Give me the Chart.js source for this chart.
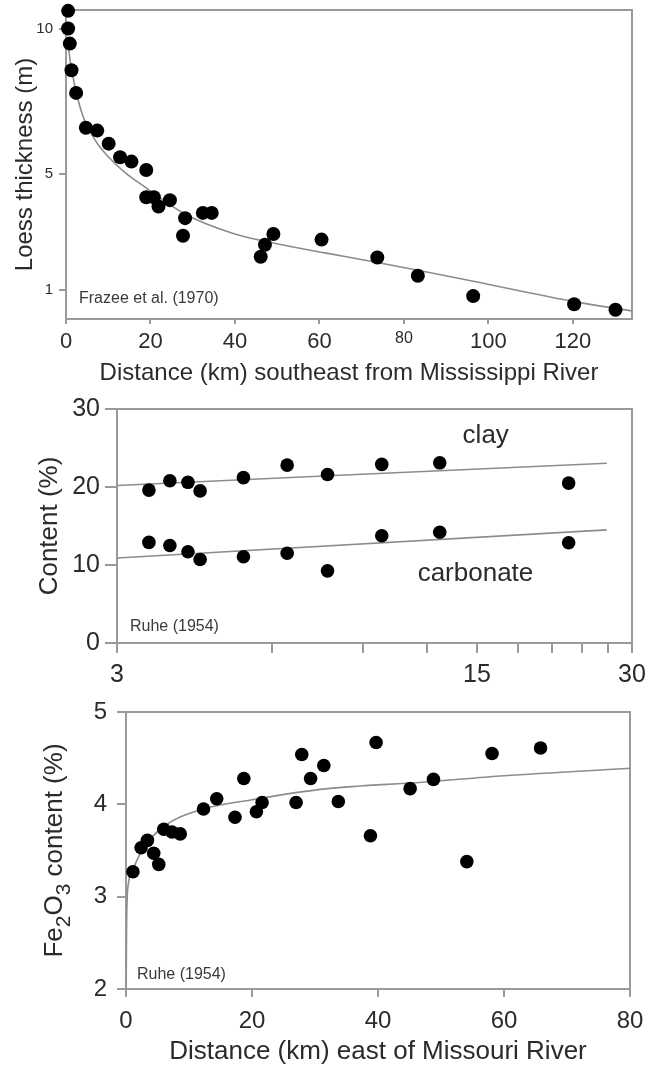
<!DOCTYPE html>
<html>
<head>
<meta charset="utf-8">
<title>Loess thickness and composition with distance from the rivers</title>
<script src="https://cdn.jsdelivr.net/npm/chart.js@4.4.1/dist/chart.umd.min.js"></script>
<style>
  html, body { margin: 0; padding: 0; background: #fff; }
  #wrap { position: relative; width: 649px; height: 1065px; overflow: hidden; }
  canvas { position: absolute; left: 0; }
</style>
</head>
<body>
<div id="wrap">
  <canvas id="thickness" width="649" height="385" style="top:0"></canvas>
  <canvas id="content" width="649" height="310" style="top:385px"></canvas>
  <canvas id="iron" width="649" height="370" style="top:695px"></canvas>
</div>
<script>
// Loess thickness (m) vs distance (km) southeast from the Mississippi River
const thickDist = [0.5, 0.5, 0.9, 1.3, 2.4, 4.7, 7.4, 10.1, 12.8, 15.5, 19.0, 19.0, 20.8, 21.9,
  24.6, 28.2, 27.7, 32.4, 34.5, 46.1, 47.1, 49.1, 60.5, 73.7, 83.3, 96.4, 120.3, 130.1];
const thickness = [10.63, 10.02, 9.5, 8.58, 7.8, 6.6, 6.5, 6.05, 5.58, 5.43, 5.14, 4.2, 4.2, 3.88,
  4.1, 3.48, 2.87, 3.66, 3.66, 2.15, 2.56, 2.93, 2.74, 2.12, 1.49, 0.79, 0.51, 0.32];
const thickFitDist = [0.4, 1, 2, 4, 7, 10, 14, 18.7, 27.8, 39.6, 49.1, 61.3, 73.7, 83.3, 96.4, 120.3, 134];
const thickFit = [9.6, 8.9, 8.1, 7.0, 6.15, 5.6, 5.05, 4.55, 3.65, 2.95, 2.62, 2.28, 1.95, 1.68, 1.3, 0.6, 0.28];
const thickXTicks = [0, 20, 40, 60, 80, 100, 120];
const thickYTicks = [1, 5, 10];

// Clay and carbonate content (%) vs distance (km), log distance axis
const contentDist = [3.46, 3.8, 4.12, 4.35, 5.28, 6.42, 7.69, 9.8, 12.7, 22.6];
const clay = [19.6, 20.8, 20.6, 19.5, 21.2, 22.8, 21.6, 22.9, 23.1, 20.5];
const carbonate = [12.9, 12.5, 11.7, 10.7, 11.05, 11.5, 9.25, 13.75, 14.2, 12.85];
const contentFitDist = [3, 26.8];
const clayFit = [20.2, 23.05];
const carbonateFit = [10.9, 14.5];
const contentXTicks = [3, 6, 9, 12, 15, 18, 21, 24, 27, 30];
const contentXLabels = [3, 15, 30];
const contentYTicks = [0, 10, 20, 30];

// Fe2O3 content (%) vs distance (km) east of the Missouri River
const ironDist = [1.1, 2.4, 3.4, 4.4, 5.2, 6.0, 7.3, 8.6, 12.3, 14.4, 17.3, 18.7, 20.7, 21.6,
  27.0, 27.9, 29.3, 31.4, 33.7, 38.8, 39.7, 45.1, 48.8, 54.1, 58.1, 65.8];
const fe2o3 = [3.27, 3.53, 3.61, 3.47, 3.35, 3.73, 3.70, 3.68, 3.95, 4.06, 3.86, 4.28, 3.92, 4.02,
  4.02, 4.54, 4.28, 4.42, 4.03, 3.66, 4.67, 4.17, 4.27, 3.38, 4.55, 4.61];
const ironFitDist = [0.02, 0.1, 0.4, 1.2, 2.8, 6, 11.8, 20, 32, 47, 60, 80];
const ironFit = [2.0, 2.75, 3.15, 3.31, 3.53, 3.76, 3.94, 4.05, 4.17, 4.24, 4.31, 4.39];
const ironXTicks = [0, 20, 40, 60, 80];
const ironYTicks = [2, 3, 4, 5];

const FONT = "'Liberation Sans', Arial, sans-serif";
const INK = '#2b2b2b';
const AXIS = '#9a9a9a';
const FIT = '#8c8c8c';

Chart.defaults.font.family = FONT;
Chart.defaults.color = INK;

const pairs = (xs, ys) => xs.map((x, i) => ({ x: x, y: ys[i] }));
const fixTicks = (values) => (scale) => { scale.ticks = values.map(v => ({ value: v })); };

// fixed axis box sizes, and no extra room kept for edge labels
const fitX = (h) => (s) => { s.height = h; s.paddingLeft = 0; s.paddingRight = 0; };
const fitY = (w) => (s) => { s.width = w; s.paddingTop = 0; s.paddingBottom = 0; };

// box round the plot area, drawn under the dots
const framePlugin = {
  id: 'frame',
  beforeDatasetsDraw(chart) {
    const { ctx, chartArea: a } = chart;
    ctx.save();
    ctx.strokeStyle = AXIS;
    ctx.lineWidth = 2;
    ctx.strokeRect(a.left, a.top, a.right - a.left, a.bottom - a.top);
    ctx.restore();
  }
};

// free text inside the plot: either at data coords or offset from bottom-left corner
const notesPlugin = {
  id: 'notes',
  afterDatasetsDraw(chart, args, opts) {
    const { ctx, chartArea: a, scales } = chart;
    ctx.save();
    ctx.textBaseline = 'middle';
    (opts.items || []).forEach(n => {
      ctx.font = n.size + 'px ' + FONT;
      ctx.fillStyle = n.color || INK;
      ctx.textAlign = n.align || 'left';
      const x = n.atX != null ? scales.x.getPixelForValue(n.atX) : a.left + n.dx;
      const y = n.atY != null ? scales.y.getPixelForValue(n.atY) : a.bottom + n.dy;
      ctx.fillText(n.text, x, y);
    });
    ctx.restore();
  }
};

// rotated y title with lowered digits for the formula
const ironTitlePlugin = {
  id: 'ironTitle',
  afterDraw(chart) {
    const { ctx, chartArea: a } = chart;
    const parts = [['Fe', 0], ['2', 1], ['O', 0], ['3', 1], [' content (%)', 0]];
    const setFont = (sub) => { ctx.font = (sub ? 21 : 26) + 'px ' + FONT; };
    ctx.save();
    ctx.translate(62, (a.top + a.bottom) / 2);
    ctx.rotate(-Math.PI / 2);
    ctx.fillStyle = INK;
    ctx.textBaseline = 'alphabetic';
    ctx.textAlign = 'left';
    let total = 0;
    parts.forEach(([t, sub]) => { setFont(sub); total += ctx.measureText(t).width; });
    let x = -total / 2;
    parts.forEach(([t, sub]) => {
      setFont(sub);
      ctx.fillText(t, x, sub ? 8 : 0);
      x += ctx.measureText(t).width;
    });
    ctx.restore();
  }
};

function tickGrid(len) {
  return { display: true, drawOnChartArea: false, drawTicks: true, tickLength: len, color: AXIS, lineWidth: 2 };
}
const border = { display: true, color: AXIS, width: 2 };

function dots(data, r) {
  return { data: data, showLine: false, pointRadius: r, pointHoverRadius: r,
    backgroundColor: '#000', borderWidth: 0, clip: false };
}
function fitLine(data) {
  return { data: data, showLine: true, pointRadius: 0, borderColor: FIT, borderWidth: 1.6,
    cubicInterpolationMode: 'monotone', fill: false };
}

const common = {
  responsive: false,
  animation: false,
  events: [],
  plugins: { legend: { display: false }, tooltip: { enabled: false } }
};

new Chart(document.getElementById('thickness'), {
  type: 'scatter',
  data: { datasets: [dots(pairs(thickDist, thickness), 7), fitLine(pairs(thickFitDist, thickFit))] },
  plugins: [framePlugin, notesPlugin],
  options: {
    ...common,
    layout: { padding: { top: 10, right: 17, left: 0, bottom: 0 } },
    plugins: {
      ...common.plugins,
      notes: { items: [{ text: 'Frazee et al. (1970)', dx: 13, dy: -20, size: 16, color: '#3a3a3a' }] }
    },
    scales: {
      x: {
        type: 'linear', min: 0, max: 134,
        afterBuildTicks: fixTicks(thickXTicks),
        afterFit: fitX(66),
        grid: tickGrid(5), border: border,
        ticks: {
          autoSkip: false, maxRotation: 0, padding: 5, color: INK,
          font: (c) => ({ family: FONT, size: c.tick && c.tick.value === 80 ? 16 : 22 })
        },
        title: { display: true, text: 'Distance (km) southeast from Mississippi River',
          color: INK, font: { size: 24, lineHeight: 1 }, padding: { top: 4, bottom: 0 } }
      },
      y: {
        type: 'linear', min: 0, max: 10.66,
        afterBuildTicks: fixTicks(thickYTicks),
        afterFit: fitY(66),
        grid: tickGrid(7), border: border,
        ticks: { autoSkip: false, padding: 6, color: INK, font: { size: 15 } },
        title: { display: true, text: 'Loess thickness (m)', color: INK,
          font: { size: 24, lineHeight: 1 }, padding: { top: 13, bottom: 0 } }
      }
    }
  }
});

new Chart(document.getElementById('content'), {
  type: 'scatter',
  data: {
    datasets: [
      dots(pairs(contentDist, clay), 6.8),
      dots(pairs(contentDist, carbonate), 6.8),
      fitLine(pairs(contentFitDist, clayFit)),
      fitLine(pairs(contentFitDist, carbonateFit))
    ]
  },
  plugins: [framePlugin, notesPlugin],
  options: {
    ...common,
    layout: { padding: { top: 24, right: 17, left: 0, bottom: 0 } },
    plugins: {
      ...common.plugins,
      notes: { items: [
        { text: 'Ruhe (1954)', dx: 13, dy: -16, size: 16, color: '#3a3a3a' },
        { text: 'clay', atX: 15.6, atY: 26.6, size: 26, align: 'center' },
        { text: 'carbonate', atX: 14.9, atY: 8.9, size: 26, align: 'center' }
      ] }
    },
    scales: {
      x: {
        type: 'logarithmic', min: 3, max: 30,
        afterBuildTicks: fixTicks(contentXTicks),
        afterFit: fitX(52),
        grid: tickGrid(10), border: border,
        ticks: {
          autoSkip: false, maxRotation: 0, padding: 7, color: INK, font: { size: 25 },
          callback: (v) => contentXLabels.includes(v) ? String(v) : ''
        }
      },
      y: {
        type: 'linear', min: 0, max: 30,
        afterBuildTicks: fixTicks(contentYTicks),
        afterFit: fitY(117),
        grid: tickGrid(12), border: border,
        ticks: { autoSkip: false, padding: 5, color: INK, font: { size: 25 } },
        title: { display: true, text: 'Content (%)', color: INK,
          font: { size: 26, lineHeight: 1 }, padding: { top: 37, bottom: 0 } }
      }
    }
  }
});

new Chart(document.getElementById('iron'), {
  type: 'scatter',
  data: { datasets: [dots(pairs(ironDist, fe2o3), 6.8), fitLine(pairs(ironFitDist, ironFit))] },
  plugins: [framePlugin, notesPlugin, ironTitlePlugin],
  options: {
    ...common,
    layout: { padding: { top: 17, right: 19, left: 0, bottom: 0 } },
    plugins: {
      ...common.plugins,
      notes: { items: [{ text: 'Ruhe (1954)', dx: 11, dy: -14, size: 16, color: '#3a3a3a' }] }
    },
    scales: {
      x: {
        type: 'linear', min: 0, max: 80,
        afterBuildTicks: fixTicks(ironXTicks),
        afterFit: fitX(76),
        grid: tickGrid(8), border: border,
        ticks: { autoSkip: false, maxRotation: 0, padding: 10, color: INK, font: { size: 24 } },
        title: { display: true, text: 'Distance (km) east of Missouri River', color: INK,
          font: { size: 26, lineHeight: 1 }, padding: { top: 2, bottom: 0 } }
      },
      y: {
        type: 'linear', min: 2, max: 5,
        afterBuildTicks: fixTicks(ironYTicks),
        afterFit: fitY(126),
        grid: tickGrid(9), border: border,
        ticks: { autoSkip: false, padding: 10, color: INK, font: { size: 24 } }
      }
    }
  }
});
</script>
</body>
</html>
